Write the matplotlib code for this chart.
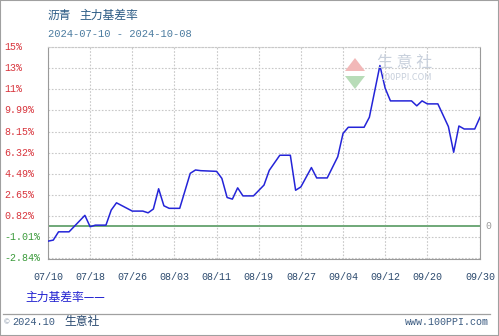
import matplotlib
matplotlib.use("Agg")
import matplotlib.pyplot as plt
import matplotlib.dates as mdates
import matplotlib.transforms as mtransforms
from matplotlib.patches import Rectangle, Polygon
from matplotlib.lines import Line2D
import pandas as pd

plt.rcParams['font.family'] = ['Noto Sans CJK SC', 'DejaVu Sans']

# data
dates = ["2024-07-10", "2024-07-11", "2024-07-12", "2024-07-14", "2024-07-17",
         "2024-07-18", "2024-07-19", "2024-07-21", "2024-07-22", "2024-07-23",
         "2024-07-26", "2024-07-28", "2024-07-29", "2024-07-30", "2024-07-31",
         "2024-08-01", "2024-08-02", "2024-08-04", "2024-08-06", "2024-08-07",
         "2024-08-08", "2024-08-11", "2024-08-12", "2024-08-13", "2024-08-14",
         "2024-08-15", "2024-08-16", "2024-08-18", "2024-08-20", "2024-08-21",
         "2024-08-23", "2024-08-25", "2024-08-26", "2024-08-27", "2024-08-29",
         "2024-08-30", "2024-09-01", "2024-09-03", "2024-09-04", "2024-09-05",
         "2024-09-08", "2024-09-09", "2024-09-11", "2024-09-12", "2024-09-13",
         "2024-09-17", "2024-09-18", "2024-09-19", "2024-09-20", "2024-09-22",
         "2024-09-24", "2024-09-25", "2024-09-26", "2024-09-27", "2024-09-29",
         "2024-09-30"]
basis_rate = [-1.35, -1.26, -0.54, -0.54, 0.89,
              -0.10, 0.04, 0.04, 1.35, 1.98,
              1.26, 1.26, 1.11, 1.44, 3.20,
              1.72, 1.50, 1.50, 4.54, 4.83,
              4.77, 4.71, 4.10, 2.44, 2.30,
              3.28, 2.58, 2.58, 3.52, 4.80,
              6.11, 6.11, 3.07, 3.36, 5.04,
              4.14, 4.14, 5.98, 8.00, 8.54,
              8.54, 9.41, 13.90, 11.93, 10.83,
              10.83, 10.40, 10.83, 10.57, 10.57,
              8.60, 6.37, 8.65, 8.39, 8.39,
              9.41]

ytick_values = [-2.84, -1.005, 0.83, 2.665, 4.5, 6.335, 8.17, 10.005, 11.84, 13.675, 15.51]
ytick_labels = ["-2.84%", "-1.01%", "0.82%", "2.65%", "4.49%", "6.32%",
                "8.15%", "9.99%", "11%", "13%", "15%"]
xtick_dates = ["2024-07-10", "2024-07-18", "2024-07-26", "2024-08-03", "2024-08-11",
               "2024-08-19", "2024-08-27", "2024-09-04", "2024-09-12", "2024-09-20",
               "2024-09-30"]

W, H = 499, 336
fig = plt.figure(figsize=(W / 100, H / 100), dpi=100)
fig.patch.set_facecolor("white")


def px(x, y):
    return x / W, 1 - y / H


left, top, right, bottom = 48, 47, 480, 259
ax = fig.add_axes([left / W, 1 - bottom / H, (right - left) / W, (bottom - top) / H])

x = pd.to_datetime(dates)
ax.plot(x, basis_rate, color="#2424d8", lw=1.1, zorder=3)
ax.axhline(0, color="#6fa878", lw=1.4, zorder=2)

ax.set_xlim(pd.Timestamp("2024-07-10"), pd.Timestamp("2024-09-30"))
ax.set_ylim(-2.84 - 0.06, 15.51)

ax.set_xticks(pd.to_datetime(xtick_dates))
ax.xaxis.set_major_formatter(mdates.DateFormatter("%m/%d"))
ax.set_yticks(ytick_values)
ax.set_yticklabels([])
ax.tick_params(axis="both", length=0)
ax.tick_params(axis="x", pad=9, labelsize=7.2, labelcolor="#2c4a6e")
for lab in ax.get_xticklabels():
    lab.set_family("Liberation Mono")

ax.grid(True, color="#c8c8c8", lw=0.8, linestyle=(0, (1.5, 1.5)))
for side in ["left", "bottom", "right"]:
    ax.spines[side].set_color("#9a9a9a")
ax.spines["top"].set_color("#c8c8c8")
ax.spines["top"].set_linestyle((0, (1.5, 1.5)))

# y labels, left aligned at the image edge
trans = mtransforms.blended_transform_factory(fig.transFigure, ax.transData)
for v, lab in zip(ytick_values, ytick_labels):
    col = "#3a9a3a" if v < 0 else "#d8343c"
    ax.text(4 / W, v, lab, transform=trans, ha="left", va="center",
            fontsize=7.2, color=col, family="Liberation Mono")
ax.text(485 / W, 0, "0", transform=trans, ha="left", va="center",
        fontsize=7, color="#9a9a9a", family="Liberation Mono")

# watermark
fig.patches.append(Polygon([px(345, 71), px(365, 71), px(355, 58)], closed=True,
                           transform=fig.transFigure, facecolor="#f2b8b8", edgecolor="none"))
fig.patches.append(Polygon([px(345, 76), px(365, 76), px(355, 89)], closed=True,
                           transform=fig.transFigure, facecolor="#b8dcb8", edgecolor="none"))
fig.text(*px(377, 63), "生 意 社", fontsize=11.5, color="#c8d0dc", va="center", ha="left")
fig.text(*px(380, 77), "100PPI.COM", fontsize=6.5, color="#c8d0dc", va="center", ha="left")

# titles
fig.text(*px(48, 15), "沥青", fontsize=8.5, color="#2a5a84", va="center", ha="left")
fig.text(*px(79, 15), "主力基差率", fontsize=8.5, color="#2a5a84", va="center", ha="left")
fig.text(*px(48, 34), "2024-07-10 - 2024-10-08", fontsize=7.6, color="#4c7ca0",
         va="center", ha="left", family="Liberation Mono")

# legend and footer
fig.text(*px(25, 297), "主力基差率——", fontsize=8.5, color="#2020d0", va="center", ha="left")
fig.add_artist(Line2D([3 / W, 490 / W], [1 - 314 / H, 1 - 314 / H], color="#a0a0a0", lw=0.9))
fig.text(*px(4, 322), "©", fontsize=5, color="#7a8aa0", va="center", ha="left")
fig.text(*px(12, 322), "2024.10", fontsize=7.4, color="#3a5a80", va="center", ha="left",
         family="Liberation Mono")
fig.text(*px(64, 322), "生意社", fontsize=8.5, color="#2a4a70", va="center", ha="left")
fig.text(*px(489, 322), "www.100PPI.com", fontsize=7.2, color="#3a5a80", va="center",
         ha="right", family="Liberation Mono")

fig.patches.append(Rectangle((0, 0), 1, 1, transform=fig.transFigure, fill=False,
                             edgecolor="#a0a0a0", lw=1.5))

fig.savefig("out.png", dpi=100)
